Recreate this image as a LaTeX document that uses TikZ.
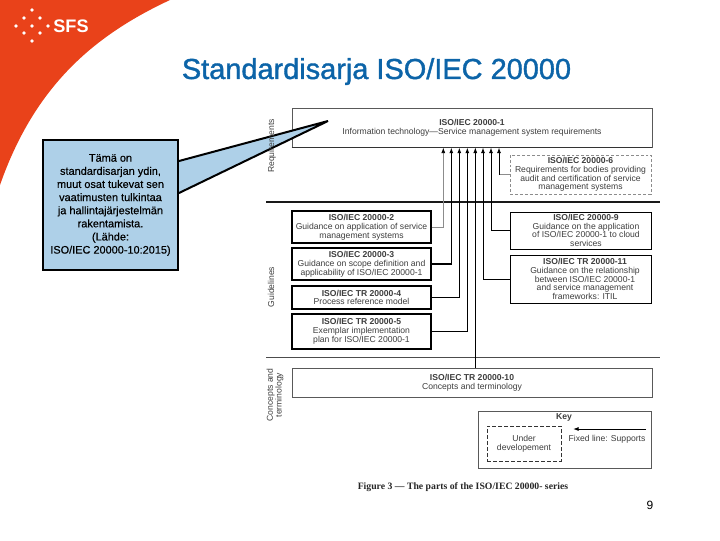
\documentclass[tikz,border=0pt]{standalone}
\usepackage{fontspec}
\setmainfont{Liberation Sans}
\newfontfamily\captionfont{Liberation Serif}
\newfontfamily\notefont[FakeBold=0.35]{Liberation Sans}
\newfontfamily\titlefont[FakeBold=1.3]{Liberation Sans}
\usetikzlibrary{arrows.meta}
\definecolor{sfsorange}{RGB}{233,66,26}
\definecolor{titleblue}{RGB}{12,100,168}
\definecolor{noteblue}{RGB}{174,208,232}
\definecolor{parttextgray}{RGB}{62,62,62}
\tikzset{
  boxdim/.style 2 args={minimum width=#1*0.75pt, minimum height=#2*0.75pt},
  parttext/.style={text=parttextgray, align=center, inner sep=0pt,
    font=\fontsize{6.45}{6.6}\selectfont},
  partbox/.style={parttext, draw=black, fill=white, line width=0.9pt},
  thinbox/.style={parttext, draw=black!65, fill=white, line width=0.6pt},
  dashbox/.style={parttext, draw=black!45, fill=white, line width=0.5pt, dash pattern=on 2.2pt off 1.5pt},
  sidelabel/.style={parttext, rotate=90},
  rule/.style={black!70, line width=0.6pt},
  feed/.style={black, line width=0.7pt, -{Latex[length=4.2pt,width=3pt]}},
  thickfeed/.style={feed, line width=1pt},
  grayfeed/.style={feed, draw=black!45, line width=0.6pt, {-Latex[length=4.2pt,width=3pt,black]}},
  dot/.style={circle, fill=white, minimum size=2.9pt, inner sep=0pt},
}
\begin{document}
\begin{tikzpicture}[x=0.75pt,y=-0.75pt]
\useasboundingbox (0,0) rectangle (720,540);
% corner and logo
\fill[sfsorange] (0,0)--(170,0) .. controls (95,35) and (35,85) .. (0,185)--cycle;
\foreach \px/\py [count=\i] in {32/10,24/18,40/18,16/26,32/26,48/26,24/33,40/33,32/41}
  \node[dot] (logodot\i) at (\px,\py) {};
\node[text=white, inner sep=0pt, font=\bfseries\fontsize{13.6}{14}\selectfont] (logo) at (71,26) {SFS};
\node[text=titleblue, inner sep=0pt, font=\titlefont\fontsize{21.7}{23}\selectfont] (title) at (376.5,71.5) {Standardisarja ISO/IEC 20000};
\node[inner sep=0pt, font=\fontsize{9}{10}\selectfont] (pagenum) at (650,505) {9};
% parts
\node[thinbox, boxdim={360}{39}] (partOne) at (472,127.5)
  {\textbf{ISO/IEC 20000-1}\\Information technology---Service management system requirements};
\draw[black!80, line width=1.1pt] (partOne.south west)--(partOne.south east);
\node[dashbox, boxdim={141}{39}] (partSix) at (580.5,174.5)
  {\textbf{ISO/IEC 20000-6}\\Requirements for bodies providing\\audit and certification of service\\management systems};
\node[partbox, boxdim={139}{32}] (partTwo) at (361.5,227)
  {\textbf{ISO/IEC 20000-2}\\Guidance on application of service\\management systems};
\node[partbox, boxdim={139}{32}] (partThree) at (361.5,264)
  {\textbf{ISO/IEC 20000-3}\\Guidance on scope definition and\\applicability of ISO/IEC 20000-1};
\node[partbox, boxdim={139}{23}] (partFour) at (361.5,297.5)
  {\textbf{ISO/IEC TR 20000-4}\\Process reference model};
\node[partbox, boxdim={139}{35}] (partFive) at (361.5,331.5)
  {\textbf{ISO/IEC TR 20000-5}\\Exemplar implementation\\plan for ISO/IEC 20000-1};
\node[partbox, line width=0.7pt, boxdim={141}{37}] (partNine) at (580.5,230.5) {};
\node[parttext] (nineText) at (586,230.5)
  {\textbf{ISO/IEC 20000-9}\\Guidance on the application\\of ISO/IEC 20000-1 to cloud\\services};
\node[partbox, line width=0.7pt, boxdim={141}{48}] (partEleven) at (580.5,279) {};
\node[parttext] (elevenText) at (585,279)
  {\textbf{ISO/IEC TR 20000-11}\\Guidance on the relationship\\between ISO/IEC 20000-1\\and service management\\frameworks: ITIL};
\node[thinbox, boxdim={360}{29}] (partTen) at (472,382.5)
  {\textbf{ISO/IEC TR 20000-10}\\Concepts and terminology};
% section rules
\coordinate (ruleOneA) at (266,202);
\coordinate (ruleOneB) at (660,202);
\coordinate (ruleTwoA) at (266,357);
\coordinate (ruleTwoB) at (660,357);
\draw[rule, black!90, line width=0.9pt] (ruleOneA)--(ruleOneB);
\draw[rule] (ruleTwoA)--(ruleTwoB);
% connectors up to part 1
\coordinate (tipTwo) at (443.3,147.5);
\coordinate (tipThree) at (451.3,147.5);
\coordinate (tipFour) at (459.3,147.5);
\coordinate (tipFive) at (467.3,147.5);
\coordinate (tipTen) at (475.3,147.5);
\coordinate (tipEleven) at (483,147.5);
\coordinate (tipNine) at (491,147.5);
\coordinate (tipSix) at (499,147.5);
\draw[grayfeed] (partTwo.east) -| (tipTwo);
\draw[thickfeed] (partThree.east) -| (tipThree);
\draw[thickfeed] (partFour.east) -| (tipFour);
\draw[thickfeed] (partFive.east) -| (tipFive);
\draw[feed, line width=0.5pt] (tipTen |- partTen.north) -- (tipTen);
\draw[feed] (partEleven.west) -| (tipEleven);
\draw[feed] (partNine.west) -| (tipNine);
\draw[black!45, line width=0.7pt] (partSix.west) -- (tipSix |- partSix.west);
\draw[feed] (tipSix |- partSix.west) -- (tipSix);
% key
\node[thinbox, boxdim={173}{57}] (keybox) at (564.5,439.5) {};
\node[parttext, font=\bfseries\fontsize{6.45}{6.6}\selectfont] (keytitle) at (564,417) {Key};
\node[parttext, draw=black!80, line width=0.6pt, dash pattern=on 3pt off 1.5pt, boxdim={74}{35}] (keydash) at (524,443.5) {Under\\developement};
\coordinate (keyfrom) at (646,429);
\coordinate (keyto) at (573,429);
\draw[feed] (keyfrom) -- (keyto);
\node[parttext] (keytext) at (607,439.5) {Fixed line: Supports};
\node[inner sep=0pt, text=black!85, font=\captionfont\bfseries\fontsize{7.3}{8}\selectfont] (figcaption) at (463,487)
  {Figure 3 — The parts of the ISO/IEC 20000- series};
% callout
\node[draw=black, fill=noteblue, line width=1.5pt, boxdim={135}{130}, inner sep=0pt, align=center,
  font=\notefont\fontsize{8.2}{9.85}\selectfont] (note) at (110.5,205)
  {T\"am\"a on\\standardisarjan ydin,\\muut osat tukevat sen\\vaatimusten tulkintaa\\ja hallintaj\"arjestelm\"an\\rakentamista.\\(L\"ahde:\\ISO/IEC 20000-10:2015)};
\coordinate (notetip) at (328,121);
\fill[noteblue] (note.east |- 0,161) -- (notetip) -- (note.east |- 0,193) -- cycle;
\draw[line width=1.5pt, line join=miter] (note.east |- 0,161) -- (notetip) -- (note.east |- 0,193);
% side labels
\node[sidelabel] (sideReq) at (272,146) {Requirements};
\node[sidelabel] (sideGuide) at (271,287) {Guidelines};
\node[sidelabel] (sideConcept) at (275,395) {Concepts and\\terminology};
\end{tikzpicture}
\end{document}
